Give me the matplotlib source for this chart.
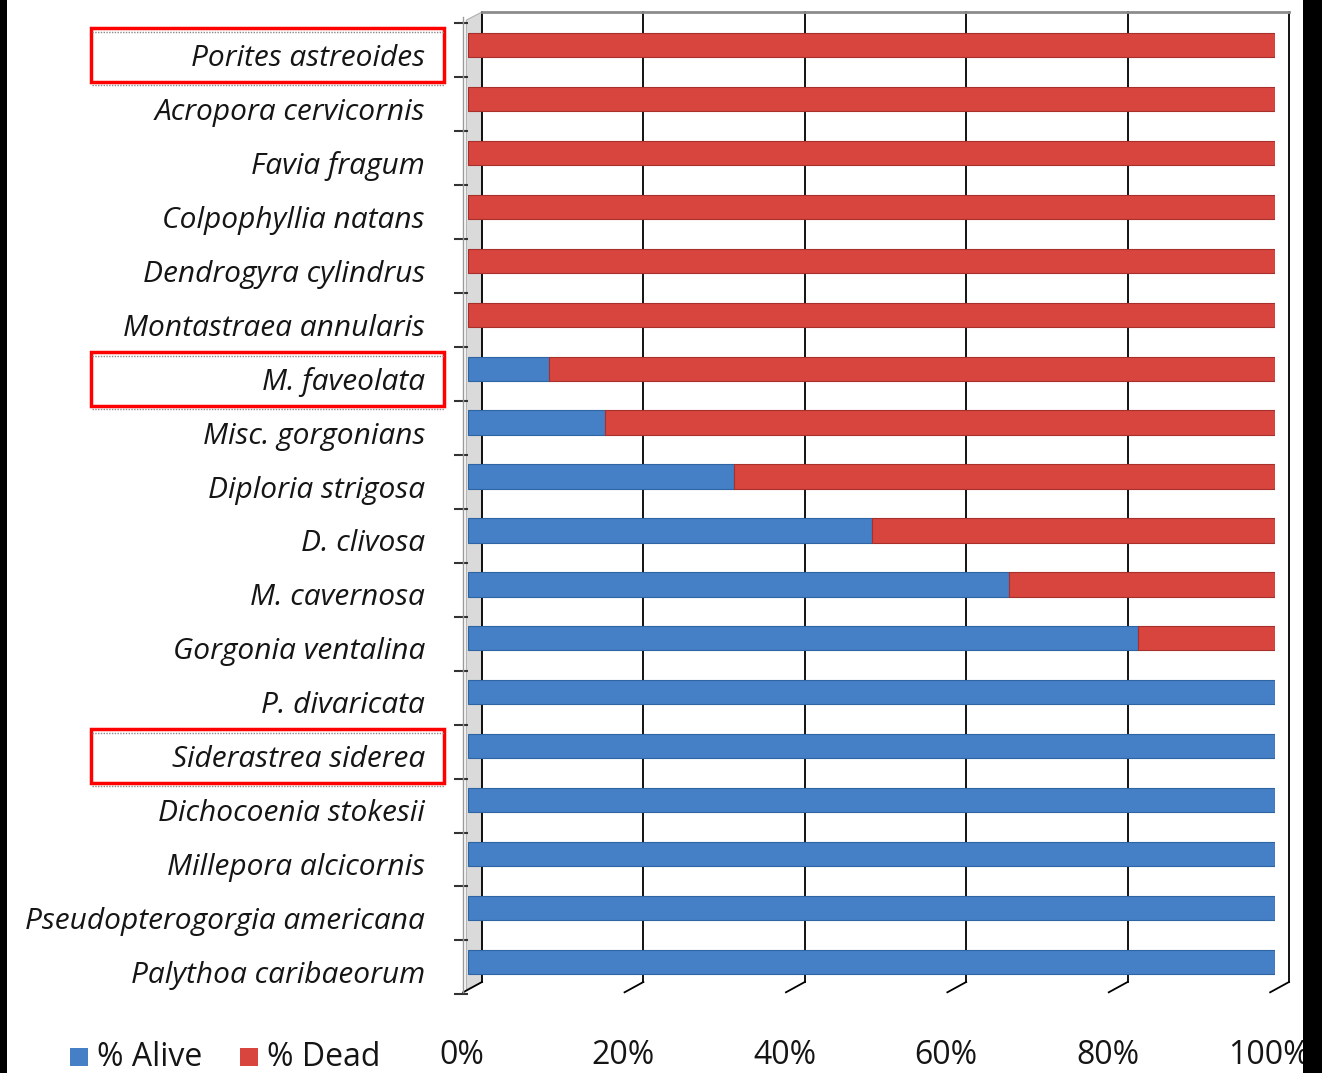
import matplotlib.pyplot as plt
from matplotlib.patches import Rectangle, Polygon

species = ["Porites astreoides", "Acropora cervicornis", "Favia fragum",
           "Colpophyllia natans", "Dendrogyra cylindrus", "Montastraea annularis",
           "M. faveolata", "Misc. gorgonians", "Diploria strigosa", "D. clivosa",
           "M. cavernosa", "Gorgonia ventalina", "P. divaricata",
           "Siderastrea siderea", "Dichocoenia stokesii", "Millepora alcicornis",
           "Pseudopterogorgia americana", "Palythoa caribaeorum"]
alive = [0, 0, 0, 0, 0, 0, 10, 17, 33, 50, 67, 83, 100, 100, 100, 100, 100, 100]
dead = [100 - a for a in alive]
boxed = ["Porites astreoides", "M. faveolata", "Siderastrea siderea"]
xticks = [0, 20, 40, 60, 80, 100]

W, H = 1322, 1073
blue, blue_dk = "#4580c6", "#2f64a3"
red, red_dk = "#d8453f", "#a8302c"

fig = plt.figure(figsize=(W / 100, H / 100), dpi=100)
fig.patch.set_facecolor("white")

# axes: front plane 0% at x=468, 100% at x=1275; y from 12 to 995 px
ax = fig.add_axes([468 / W, (H - 995) / H, 807 / W, 983 / H])
ytop = -(45 - 12) / 53.94
ybot = (995 - 45) / 53.94
for s in ax.spines.values():
    s.set_visible(False)

# back plane offset (3D look)
dx = 14 / 8.07
yback_bot = (982 - 45) / 53.94
# labels sit a little lower than the bars in the perspective view
lab_dy = 10 / 53.94

# side wall
wall = Polygon([(-0.2, ytop + 0.15), (dx, ytop), (dx, yback_bot), (-0.2, ybot - 0.1)],
               closed=True, facecolor="#dadada", edgecolor="#b0b0b0", lw=0.8,
               clip_on=False, zorder=1)
ax.add_patch(wall)

# gridlines on the back plane and their floor edges
for x in xticks:
    ax.plot([x + dx, x + dx], [ytop, yback_bot], color="black", lw=1.3,
            clip_on=False, zorder=1.5)
    ax.plot([x + dx, x - 0.6], [yback_bot, ybot - 0.05], color="black", lw=1.3,
            clip_on=False, zorder=1.5)
ax.plot([dx, 100 + dx], [ytop, ytop], color="#8c8c8c", lw=2, clip_on=False, zorder=1.5)

# stacked bars
pos = list(range(len(species)))
bh = 0.45
ax.barh(pos, alive, height=bh, color=blue, edgecolor=blue_dk, lw=0.8, zorder=3)
ax.barh(pos, dead, left=alive, height=bh, color=red, edgecolor=red_dk, lw=0.8, zorder=3)

# y axis: labels at categories, ticks at the boundaries
ax.set_yticks([p + lab_dy for p in pos])
ax.set_yticklabels(species, fontsize=21.5, fontstyle="italic", family="Open Sans",
                   color="#151515")
ax.set_yticks([p - 0.4 for p in pos] + [len(pos) - 0.4], minor=True)
ax.tick_params(axis="y", which="major", length=0, pad=31)
ax.tick_params(axis="y", which="minor", length=10, width=1.5, color="#333333")
ax.plot([-0.6, -0.6], [ytop + 0.1, ybot - 0.05], color="#9a9a9a", lw=1, clip_on=False)

# x axis labels below the floor (projected slightly left of the back gridlines)
ax.set_xticks([])
for x in xticks:
    ax.text(x - 0.75, (1055 - 45) / 53.94, f"{x}%", fontsize=23, family="Open Sans",
            color="#151515", ha="center", va="center", clip_on=False)

ax.set_xlim(0, 100)
ax.set_ylim(ybot, ytop)

# legend at bottom left
leg_y = 1058
for (xs, col, txt) in [(70, blue, "% Alive"), (240, red, "% Dead")]:
    fig.patches.append(Rectangle((xs / W, (H - leg_y - 8) / H), 18 / W, 18 / H,
                                 transform=fig.transFigure, facecolor=col,
                                 edgecolor="none"))
    fig.text((xs + 27) / W, (H - leg_y) / H, txt, fontsize=23, family="Open Sans",
             va="center", ha="left", color="#151515")

# red highlight boxes around selected species
for name in boxed:
    i = species.index(name)
    yc = 55 + i * 53.94
    fig.patches.append(Rectangle((91 / W, (H - yc - 27) / H), 353 / W, 54 / H,
                                 transform=fig.transFigure, fill=False,
                                 edgecolor="#ff0000", lw=2.5))
    for yy in (yc - 23, yc + 30):
        fig.lines.append(plt.Line2D([92 / W, 444 / W], [(H - yy) / H] * 2,
                                    transform=fig.transFigure, color="#888888",
                                    lw=1, ls=(0, (1, 1))))

# dark borders at the left and right edges
fig.patches.append(Rectangle((0, 0), 7 / W, 1, transform=fig.transFigure,
                             facecolor="black", edgecolor="none", zorder=10))
fig.patches.append(Rectangle((1303 / W, 0), 19 / W, 1, transform=fig.transFigure,
                             facecolor="black", edgecolor="none", zorder=10))

fig.savefig("out.png", dpi=100)
